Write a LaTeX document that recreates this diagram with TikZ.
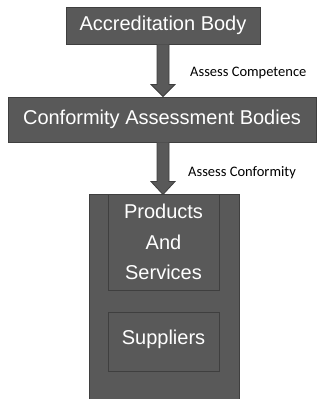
\documentclass[tikz,border=0pt]{standalone}
\usepackage{fontspec}
\setmainfont{Liberation Sans}
\newfontfamily\labelfont{Carlito}
\usetikzlibrary{calc}
\definecolor{boxfill}{HTML}{595959}
\definecolor{boxline}{HTML}{3F3F3F}
\tikzset{
  darkbox/.style={draw=boxline, fill=boxfill, line width=0.9pt, text=white,
    inner sep=0pt, font=\fontsize{20}{30.5}\selectfont, align=center},
  innerbox/.style={draw=boxline, line width=0.9pt, inner sep=0pt},
  fatarrow/.style={draw=boxline, fill=boxfill, line width=0.8pt, line join=miter},
  steplabel/.style={font=\labelfont\fontsize{14.5}{16}\selectfont, anchor=west, inner sep=0pt}
}
\begin{document}
\begin{tikzpicture}[x=1pt, y=-1pt]
\useasboundingbox (0,0) rectangle (320,399);

% three levels of the scheme
\node[darkbox, minimum width=194pt, minimum height=37pt] (acc) at (163,25.5) {Accreditation Body};
\node[darkbox, minimum width=308pt, minimum height=45pt] (cab) at (162,119.5) {Conformity Assessment Bodies};
\node[darkbox, minimum width=150pt, minimum height=208pt] (base) at (164,298) {};

% contents of the bottom block
\node[innerbox, minimum width=111pt, minimum height=96pt] (prod) at (163.5,242) {};
\node[text=white, align=center, font=\fontsize{20}{30.5}\selectfont] (prodtext) at (163.5,242) {Products\\And\\Services};
\node[innerbox, minimum width=111pt, minimum height=59pt] (supp) at (163.5,341.5) {};
\node[text=white, font=\fontsize{20}{24}\selectfont] (supptext) at (163.5,339) {Suppliers};

% block arrows between the levels
\draw[fatarrow]
  ($(acc.south)+(-6,0)$) -- ($(acc.south |- cab.north)+(-6,-12)$)
  -- ++(-6,0) -- (acc.south |- cab.north) -- ++(12,-12) -- ++(-6,0)
  -- ($(acc.south)+(6,0)$);
\draw[fatarrow]
  ($(acc.south |- cab.south)+(-6,0)$) -- ($(acc.south |- base.north)+(-6,-12)$)
  -- ++(-6,0) -- ($(acc.south |- base.north)+(0,1)$) -- ++(12,-13) -- ++(-6,0)
  -- ($(acc.south |- cab.south)+(6,0)$);

% arrow labels
\node[steplabel] (lblcomp) at (190,73) {Assess Competence};
\node[steplabel] (lblconf) at (188,173) {Assess Conformity};
\end{tikzpicture}
\end{document}
